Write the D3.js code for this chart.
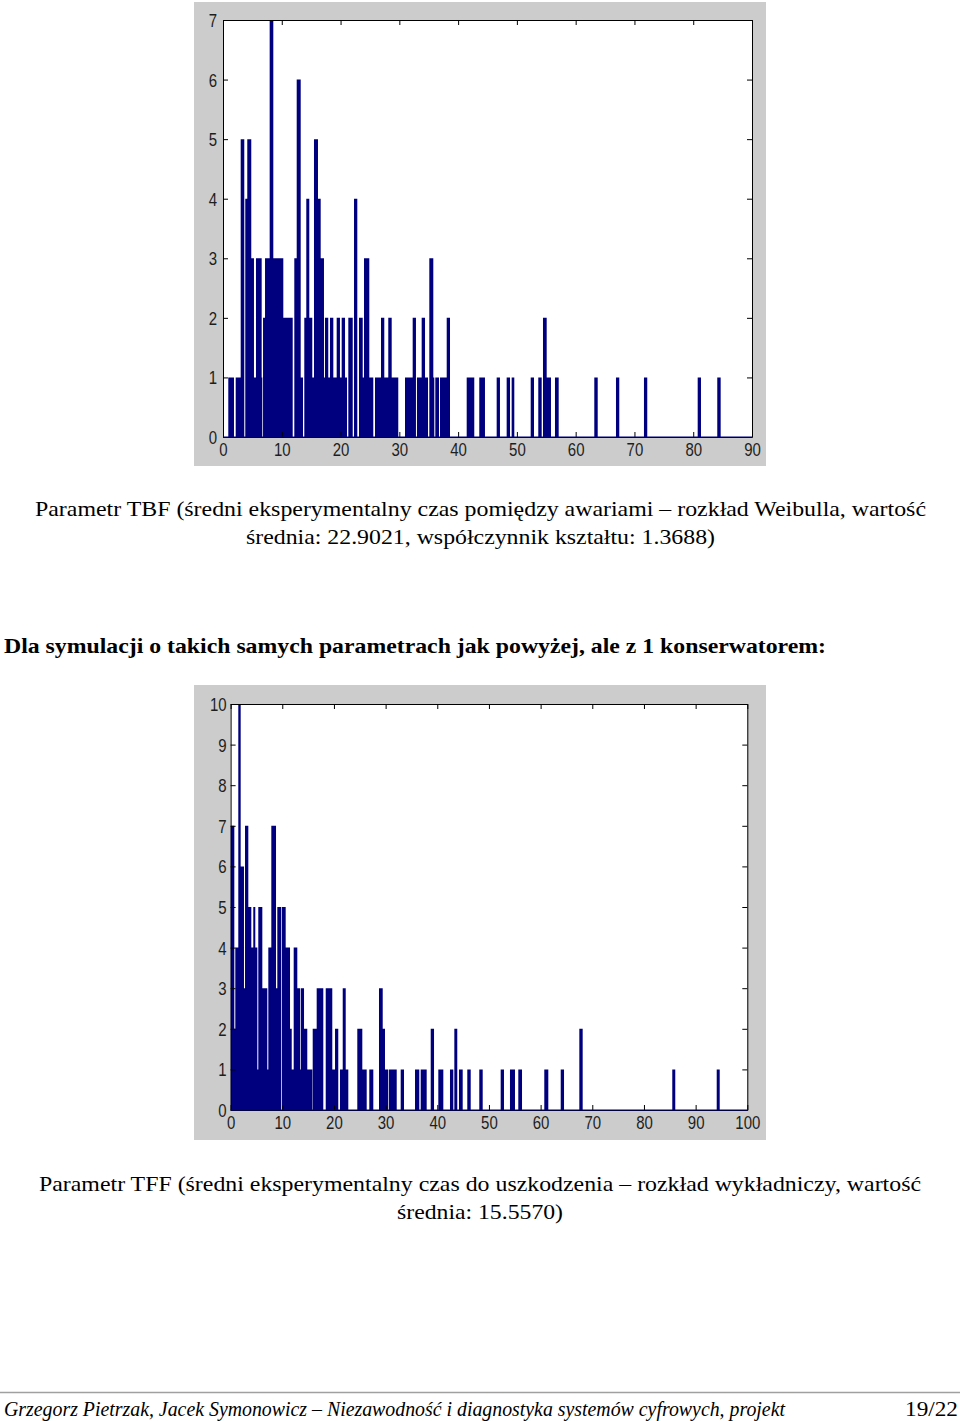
<!DOCTYPE html>
<html><head><meta charset="utf-8">
<script src="https://cdn.jsdelivr.net/npm/d3@7/dist/d3.min.js"></script>
<style>body{margin:0;background:#fff}svg{display:block}</style>
</head><body>
<svg id="page" width="960" height="1421"></svg>
<script>
// ---------- DATA ----------
// TBF histogram (top): bin edges and counts (count i spans edges[i]..edges[i+1])
const tbfEdges = [0.90,1.87,2.16,3.01,3.62,3.79,4.13,4.81,5.27,5.61,6.58,6.69,6.81,7.15,7.94,8.56,10.26,11.86,12.13,12.54,13.22,13.61,13.83,14.17,14.68,15.19,15.48,16.16,16.62,17.18,17.35,17.91,18.20,18.77,19.34,19.90,20.19,20.76,21.10,21.32,22.07,22.29,22.85,23.14,23.77,23.99,24.89,25.57,25.86,26.88,27.44,28.12,28.70,29.82,30.96,32.27,32.83,33.00,33.80,34.37,34.88,35.10,35.78,35.95,36.12,36.75,36.92,38.06,38.62,41.46,42.75,43.60,44.57,46.56,47.12,48.26,48.83,49.11,49.56,52.35,52.91,53.64,54.22,54.44,55.07,55.80,56.48,57.11,63.17,63.75,66.86,67.42,71.62,72.18,80.76,81.32,84.09,84.67];
const tbfCounts = [1,0,1,5,0,4,5,3,1,3, 1,0,2,3,7,3,2,0,3,6, 1,0,2,4,2,1,5,4,3,1, 2,1,2,1,2,1,2,1,0,2, 0,4,0,2,1,3,1,0,1,2, 1,2,1,0,1,2,0,1,2,1, 0,3,1,0,1,0,1,2,0,1, 0,1,0,1,0,1,0,1,0,1, 0,1,0,2,1,0,1,0,1,0, 1,0,1,0,1,0,1];
const tbfXTicks = [0,10,20,30,40,50,60,70,80,90];
const tbfYTicks = [0,1,2,3,4,5,6,7];

// TFF histogram (bottom)
const tffEdges = [0.02,0.72,0.91,1.49,1.95,2.59,2.79,3.43,4.01,4.39,4.78,5.17,5.36,6.14,7.10,7.30,7.88,8.79,9.04,9.81,9.95,10.66,11.50,11.83,12.21,12.91,13.43,13.57,14.21,14.84,15.81,15.89,16.66,17.94,18.41,19.68,20.21,20.84,21.17,21.70,22.28,22.78,24.52,25.49,26.34,26.84,27.62,28.72,29.44,29.88,30.52,30.66,32.15,32.92,33.56,35.69,36.52,36.79,37.95,38.73,39.37,40.20,41.17,42.46,43.10,43.30,43.87,44.20,44.92,45.81,46.47,48.13,48.79,52.27,52.91,54.07,55.04,55.68,56.40,60.71,61.49,63.89,64.53,67.49,68.14,85.48,86.06,94.08,94.66];
const tffCounts = [7,2,4,10,6,3,7,5,4,5, 4,1,5,3,1,4,7,3,5,0, 5,4,2,1,4,3,1,3,2,1, 0,2,3,0,3,1,2,0,1,3, 1,0,2,1,0,1,0,3,2,1, 0,1,0,1,0,1,0,1,0,2, 0,1,0,1,0,2,0,1,0,1, 0,1,0,1,0,1,0,1,0,1, 0,1,0,2,0,1,0,1];
const tffXTicks = [0,10,20,30,40,50,60,70,80,90,100];
const tffYTicks = [0,1,2,3,4,5,6,7,8,9,10];

// Texts
const caption1 = ["Parametr TBF (średni eksperymentalny czas pomiędzy awariami – rozkład Weibulla, wartość",
                  "średnia: 22.9021, współczynnik kształtu: 1.3688)"];
const heading = "Dla symulacji o takich samych parametrach jak powyżej, ale z 1 konserwatorem:";
const caption2 = ["Parametr TFF (średni eksperymentalny czas do uszkodzenia – rozkład wykładniczy, wartość",
                  "średnia: 15.5570)"];
const footerLeft = "Grzegorz Pietrzak, Jacek Symonowicz – Niezawodność i diagnostyka systemów cyfrowych, projekt";
const footerRight = "19/22";

// ---------- DRAWING ----------
const svg = d3.select("#page");
const BAR = "#00007f";
const SY = 1.2;

function histogram(cfg) {
  const f = cfg.frame, a = cfg.axes;
  svg.append("rect").attr("x", f.x).attr("y", f.y).attr("width", f.w).attr("height", f.h).attr("fill", "#cccccc");
  svg.append("rect").attr("x", a.x0).attr("y", a.y0).attr("width", a.x1 - a.x0).attr("height", a.y1 - a.y0).attr("fill", "#fff");
  const x = d3.scaleLinear().domain(cfg.xDomain).range([a.x0, a.x1]);
  const y = d3.scaleLinear().domain(cfg.yDomain).range([a.y1, a.y0]);
  // histogram bars as one stepped area (adjacent bins share edges, no seams)
  const pts = cfg.edges.map((e, i) => ({x: e, c: i < cfg.counts.length ? cfg.counts[i] : 0}));
  const area = d3.area().curve(d3.curveStepAfter)
    .x(d => x(d.x)).y0(y(0)).y1(d => y(d.c));
  svg.append("path").datum(pts).attr("d", area).attr("fill", BAR);

  const styleAxis = g => {
    g.selectAll("path.domain").attr("stroke", "#000").attr("stroke-width", 1);
    g.selectAll(".tick line").attr("stroke", "#000");
    g.selectAll("text").attr("font-family", "'Liberation Sans', Arial, sans-serif")
      .attr("font-size", 15).attr("fill", "#1e1e1e");
  };
  const gb = svg.append("g").attr("transform", `translate(0,${a.y1})`)
    .call(d3.axisBottom(x).tickValues(cfg.xTicks).tickSize(-5).tickSizeOuter(0).tickPadding(cfg.xPad).tickFormat(d3.format("d")));
  styleAxis(gb);
  gb.selectAll("text").attr("transform", `scale(1,${SY})`);
  const gt = svg.append("g").attr("transform", `translate(0,${a.y0})`)
    .call(d3.axisTop(x).tickValues(cfg.xTicks).tickSize(-5).tickSizeOuter(0).tickFormat(""));
  styleAxis(gt);
  const gl = svg.append("g").attr("transform", `translate(${a.x0},0)`)
    .call(d3.axisLeft(y).tickValues(cfg.yTicks).tickSize(-5).tickSizeOuter(0).tickPadding(cfg.yPad).tickFormat(d3.format("d")));
  styleAxis(gl);
  gl.selectAll("text").attr("transform", `scale(1,${SY})`).attr("dy", "0.36em");
  const gr = svg.append("g").attr("transform", `translate(${a.x1},0)`)
    .call(d3.axisRight(y).tickValues(cfg.yTicks).tickSize(-5).tickSizeOuter(0).tickFormat(""));
  styleAxis(gr);
  // baseline of the bars
  svg.append("line").attr("x1", a.x0).attr("x2", a.x1).attr("y1", y(0)).attr("y2", y(0))
    .attr("stroke", BAR).attr("stroke-width", 1);
}

histogram({
  frame: {x: 194, y: 2, w: 572, h: 464},
  axes: {x0: 223, x1: 752, y0: 20, y1: 437},
  xDomain: [0, 90], yDomain: [0, 7],
  edges: tbfEdges, counts: tbfCounts, xTicks: tbfXTicks, yTicks: tbfYTicks,
  xPad: 5.5, yPad: 6
});
histogram({
  frame: {x: 194, y: 685, w: 572, h: 455},
  axes: {x0: 230.6, x1: 747.3, y0: 704, y1: 1110},
  xDomain: [0, 100], yDomain: [0, 10],
  edges: tffEdges, counts: tffCounts, xTicks: tffXTicks, yTicks: tffYTicks,
  xPad: 5, yPad: 4
});

function textLine(str, x, yb, width, opts = {}) {
  const t = svg.append("text").text(str)
    .attr("x", x).attr("y", yb)
    .attr("font-family", "'Liberation Serif', 'Times New Roman', serif")
    .attr("font-size", opts.size || 22)
    .attr("font-weight", opts.weight || "normal")
    .attr("font-style", opts.style || "normal")
    .attr("fill", "#000");
  if (width) t.attr("textLength", width).attr("lengthAdjust", "spacingAndGlyphs");
  return t;
}

textLine(caption1[0], 35, 516, 891);
textLine(caption1[1], 246, 544, 469);
textLine(heading, 4, 653, 822, {weight: "bold", size: 21});
textLine(caption2[0], 39, 1191, 882);
textLine(caption2[1], 397, 1219, 166);

svg.append("line").attr("x1", 0).attr("x2", 960).attr("y1", 1392.5).attr("y2", 1392.5)
  .attr("stroke", "#a0a0a0").attr("stroke-width", 1.5);
textLine(footerLeft, 4, 1416, 781, {style: "italic", size: 22});
textLine(footerRight, 905, 1416, 53, {size: 22});
</script>
</body></html>
